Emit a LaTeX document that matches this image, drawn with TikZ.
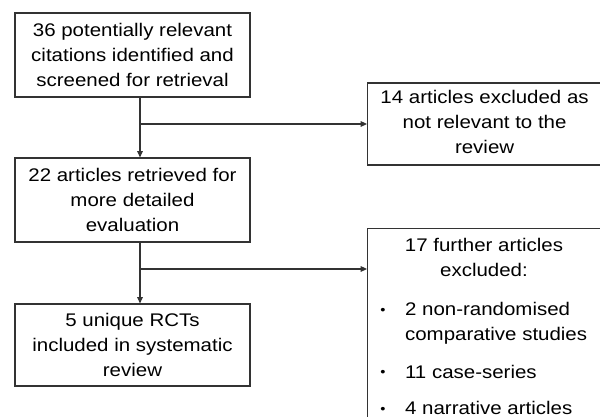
\documentclass[tikz,border=0pt]{standalone}
\usepackage{fontspec}
\setmainfont{Liberation Sans}[FakeStretch=1.12]
\usetikzlibrary{arrows.meta,positioning}
\definecolor{inkgray}{HTML}{333333}
\newcommand{\flowfont}{\fontsize{13}{17.7}\selectfont}
\newcommand{\dotmark}{\raisebox{0.9pt}{\scalebox{0.72}{\textbullet}}}
\tikzset{
  stage/.style={draw=inkgray, line width=0.8pt, minimum width=5.875cm, minimum height=2.1cm, inner sep=0pt, align=center, font=\flowfont},
  excl/.style={draw=inkgray, line width=0.8pt, minimum width=6.125cm, inner sep=0pt, anchor=west},
  lbl/.style={inner sep=0pt, align=center, font=\flowfont},
  flow/.style={draw=inkgray, line width=0.8pt, -{Triangle[length=4.5pt,width=4pt]}},
}

\begin{document}
\begin{tikzpicture}[node distance=3.625cm, on grid]
\useasboundingbox (0,0) rectangle (15,-10.425);
\clip (0,0) rectangle (15,-10.425);
% left column
\node[stage] (cites) at (3.3125,-1.375) {36 potentially relevant\\citations identified and\\screened for retrieval};
\node[stage] (retr) [below=of cites] {22 articles retrieved for\\more detailed\\evaluation};
\node[stage, minimum height=2.05cm] (rcts) [below=of retr] {5 unique RCTs\\included in systematic\\review};
% right column
\node[excl, minimum height=2.05cm] (notrel) at (9.175,-3.1) {};
\node[lbl] (notreltxt) at ([xshift=2.94cm, yshift=0.05cm]notrel.west) {14 articles excluded as\\not relevant to the\\review};
\node[excl, anchor=north west, minimum height=5.5cm] (further) at (9.175,-5.7) {};
\node[lbl] (furthertxt) at (12.1,-6.4375) {17 further articles\\excluded:};
\node[lbl, anchor=north west] (reasons) at (9.5,-7.45) {%
  \begin{tabular}{@{}l@{\hspace{14pt}}l@{}}
  \dotmark & 2 non-randomised\\
           & comparative studies\\[9pt]
  \dotmark & 11 case-series\\[8.5pt]
  \dotmark & 4 narrative articles
  \end{tabular}};
% connectors
\coordinate (fork1) at (3.5,-3.1);
\coordinate (fork2) at (3.5,-6.725);
\draw[flow] (cites.south -| fork1) -- (retr.north -| fork1);
\draw[flow] (fork1) -- (fork1 -| notrel.west);
\draw[flow] (retr.south -| fork2) -- (rcts.north -| fork2);
\draw[flow] (fork2) -- (fork2 -| further.west);
\end{tikzpicture}
\end{document}
